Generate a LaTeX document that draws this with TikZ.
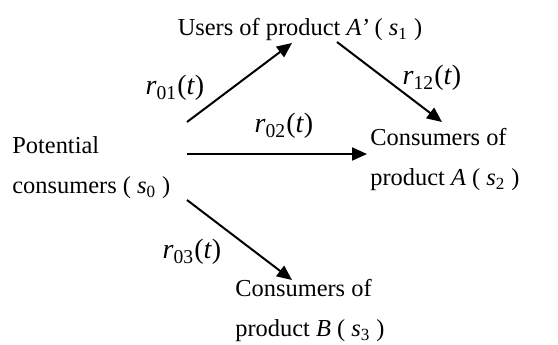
\documentclass[tikz,border=0pt]{standalone}
\usepackage{fontspec}
\setmainfont{Liberation Serif}
\usetikzlibrary{arrows.meta}

\newcommand{\st}[1]{\textit{s}\textsubscript{#1}}
\newcommand{\rt}[1]{\textit{r}\textsubscript{#1}(\textit{t})}

\begin{document}
\begin{tikzpicture}[
  x=0.5pt, y=0.5pt,
  stage/.style={inner sep=0pt, align=left, font=\fontsize{12.2}{20}\selectfont},
  rate/.style={inner sep=0pt, font=\fontsize{14}{16}\selectfont},
  flow/.style={draw, line width=1pt, -{Triangle[length=7.5pt, width=6.5pt]}}
]
  \useasboundingbox (0,0) rectangle (558,344);

  \node[stage]             (s1) at (300,314) {Users of product \textit{A’} ( \st{1} )};
  \node[stage, anchor=west] (s0) at (12,176)  {Potential\\consumers ( \st{0} )};
  \node[stage, anchor=west] (s2) at (370,184) {Consumers of\\product \textit{A} ( \st{2} )};
  \node[stage, anchor=west] (s3) at (235,33)  {Consumers of\\product \textit{B} ( \st{3} )};

  % arrow ends
  \coordinate (s0-a) at (187,222);
  \coordinate (s0-b) at (187,190);
  \coordinate (s0-c) at (187,144);
  \coordinate (s1-in)  at (292,301);
  \coordinate (s1-out) at (337,302);
  \coordinate (s2-a) at (442,222);
  \coordinate (s2-b) at (367,190);
  \coordinate (s3-in) at (292,64);

  \draw[flow] (s0-a) -- (s1-in);
  \draw[flow] (s1-out) -- (s2-a);
  \draw[flow] (s0-b) -- (s2-b);
  \draw[flow] (s0-c) -- (s3-in);

  \node[rate] (r01) at (175,256) {\rt{01}};
  \node[rate] (r12) at (432,266) {\rt{12}};
  \node[rate] (r02) at (284,218) {\rt{02}};
  \node[rate] (r03) at (192,92)  {\rt{03}};
\end{tikzpicture}
\end{document}
